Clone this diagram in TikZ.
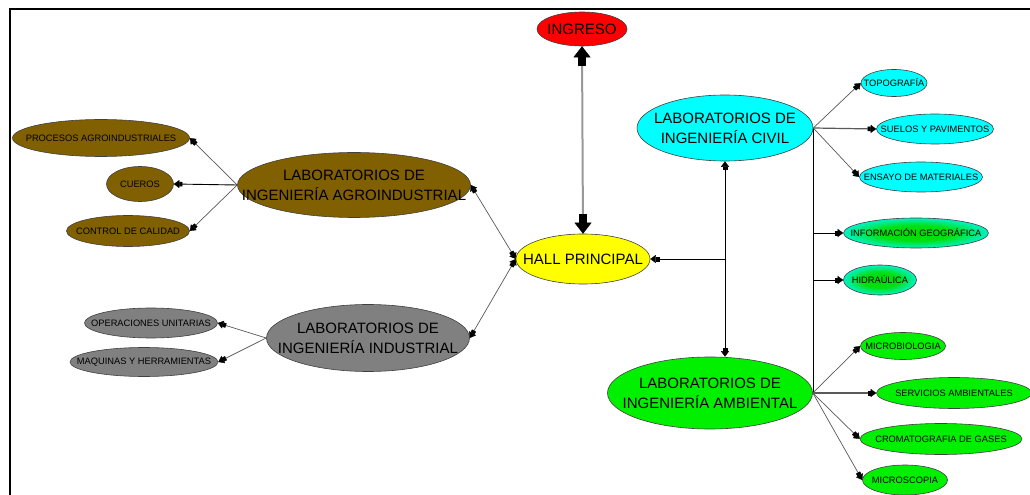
\documentclass[tikz,border=0pt]{standalone}
\usepackage{fontspec}
\setmainfont{Liberation Sans}
\usetikzlibrary{shapes.geometric,arrows.meta,calc}
\definecolor{agrobrown}{RGB}{128,96,0}
\definecolor{indgray}{RGB}{128,128,128}
\definecolor{civcyan}{RGB}{0,255,255}
\definecolor{ambgreen}{RGB}{0,240,0}
\definecolor{hallyellow}{RGB}{255,255,0}
\definecolor{ingred}{RGB}{255,0,0}
\pgfdeclareradialshading{gshade}{\pgfpoint{0bp}{0bp}}{rgb(0bp)=(0,0.86,0); rgb(13bp)=(0,0.88,0.08); rgb(25bp)=(0,0.95,0.78); rgb(50bp)=(0,0.95,0.78)}
\tikzset{
  ell/.style={ellipse, draw=black!75, line width=0.6bp, inner sep=0pt},
  bigt/.style={font=\fontsize{15bp}{20bp}\selectfont, align=center, inner sep=0pt},
  smt/.style={font=\fontsize{9.3bp}{11bp}\selectfont, inner sep=0pt},
  thinln/.style={draw=black!65, line width=0.7bp},
  blkln/.style={draw=black, line width=0.9bp},
  arr/.style={arrows={-{Rectangle[length=3bp,width=4.5bp,line width=0.3bp,color=black]Triangle[length=5.5bp,width=8bp,line width=0.3bp,color=black]}}},
  darr/.style={arrows={{Triangle[length=5.5bp,width=8bp,line width=0.3bp,color=black]Rectangle[length=3bp,width=4.5bp,line width=0.3bp,color=black]}-{Rectangle[length=3bp,width=4.5bp,line width=0.3bp,color=black]Triangle[length=5.5bp,width=8bp,line width=0.3bp,color=black]}}},
  blockarr/.style={draw=black, line width=8bp, arrows={-{Triangle[length=11bp,width=17bp,line width=0.3bp]}}},
  grad/.style={ell, shading=gshade}
}
\begin{document}
\begin{tikzpicture}[x=1bp,y=-1bp]
\useasboundingbox (0,0) rectangle (1030,495);
\fill[white] (0,0) rectangle (1030,495);
\draw[line width=2bp] (10,495) -- (10,9.5) -- (1030,9.5);

% main nodes
\node[ell, fill=ingred, minimum width=90bp, minimum height=34bp] (ing) at (582,29) {};
\node[bigt] (ingt) at (ing) {INGRESO};
\node[ell, fill=hallyellow, minimum width=134bp, minimum height=50bp] (hall) at (583,259) {};
\node[bigt] (hallt) at (hall) {HALL PRINCIPAL};
\node[ell, fill=civcyan, minimum width=176bp, minimum height=66bp] (civil) at (725,128) {};
\node[bigt] (civilt) at (civil) {LABORATORIOS DE\\INGENIERÍA CIVIL};
\node[ell, fill=ambgreen, minimum width=205bp, minimum height=72bp] (amb) at (710,393) {};
\node[bigt] (ambt) at (amb) {LABORATORIOS DE\\INGENIERÍA AMBIENTAL};
\node[ell, fill=agrobrown, minimum width=233bp, minimum height=65bp] (agro) at (354,185) {};
\node[bigt] (agrot) at (agro) {LABORATORIOS DE\\INGENIERÍA AGROINDUSTRIAL};
\node[ell, fill=indgray, minimum width=203bp, minimum height=67bp] (ind) at (368,338) {};
\node[bigt] (indt) at (ind) {LABORATORIOS DE\\INGENIERÍA INDUSTRIAL};

% civil children
\node[ell, fill=civcyan, minimum width=66bp, minimum height=27bp] (topo) at (894,83) {};
\node[smt] (topot) at (topo) {TOPOGRAFÍA};
\node[ell, fill=civcyan, minimum width=117bp, minimum height=30bp] (suel) at (935,129) {};
\node[smt] (suelt) at (suel) {SUELOS Y PAVIMENTOS};
\node[ell, fill=civcyan, minimum width=123bp, minimum height=30bp] (ens) at (921,177) {};
\node[smt] (enst) at (ens) {ENSAYO DE MATERIALES};
\node[grad, minimum width=145bp, minimum height=30bp] (geo) at (916,233) {};
\node[smt] (geot) at (geo) {INFORMACIÓN GEOGRÁFICA};
\node[grad, minimum width=73bp, minimum height=30bp] (hid) at (880,280) {};
\node[smt] (hidt) at (hid) {HIDRAÚLICA};

% ambiental children
\node[ell, fill=ambgreen, minimum width=85bp, minimum height=27bp] (micro) at (903,346) {};
\node[smt] (microt) at (micro) {MICROBIOLOGIA};
\node[ell, fill=ambgreen, minimum width=155bp, minimum height=31bp] (serv) at (954,393) {};
\node[smt] (servt) at (serv) {SERVICIOS AMBIENTALES};
\node[ell, fill=ambgreen, minimum width=162bp, minimum height=31bp] (croma) at (941,439) {};
\node[smt] (cromat) at (croma) {CROMATOGRAFIA DE GASES};
\node[ell, fill=ambgreen, minimum width=85bp, minimum height=30bp] (mics) at (905,480) {};
\node[smt] (micst) at (mics) {MICROSCOPIA};

% agro children
\node[ell, fill=agrobrown, minimum width=177bp, minimum height=37bp] (proc) at (101,138) {};
\node[smt] (proct) at (proc) {PROCESOS AGROINDUSTRIALES};
\node[ell, fill=agrobrown, minimum width=67bp, minimum height=35bp] (cuer) at (140,184) {};
\node[smt] (cuert) at (cuer) {CUEROS};
\node[ell, fill=agrobrown, minimum width=123bp, minimum height=31bp] (ctrl) at (128,231) {};
\node[smt] (ctrlt) at (ctrl) {CONTROL DE CALIDAD};

% industrial children
\node[ell, fill=indgray, minimum width=133bp, minimum height=30bp] (ops) at (151,323) {};
\node[smt] (opst) at (ops) {OPERACIONES UNITARIAS};
\node[ell, fill=indgray, minimum width=148bp, minimum height=29bp] (maq) at (144,362) {};
\node[smt] (maqt) at (maq) {MAQUINAS Y HERRAMIENTAS};

% ingreso - hall
\draw[draw=black!40, line width=2bp] (ing.south) -- (hall.north);
\draw[blockarr] ($(ing.south)+(0,20)$) -- (ing.south);
\draw[blockarr] ($(hall.north)+(0,-20)$) -- (hall.north);

% hall - left
\draw[thinln, darr] (hall.west) -- (agro.east);
\draw[thinln, darr] (hall.west) -- (ind.east);

% hall - right
\coordinate (rj) at (civil.south |- hall.east);
\coordinate (ambtop) at (civil.south |- amb.north);
\draw[blkln, arr] (rj) -- (hall.east);
\draw[blkln, darr] (civil.south) -- (ambtop);

% right trunk
\coordinate (trunkend) at (civil.east |- amb.east);
\draw[blkln] (civil.east) -- (trunkend);
\draw[blkln, arr] (civil.east |- geo.west) -- (geo.west);
\draw[blkln, arr] (civil.east |- hid.west) -- (hid.west);

% civil children
\draw[thinln, arr] (civil.east) -- (topo.west);
\draw[thinln, line width=1.2bp, arr] (civil.east) -- (suel.west);
\draw[thinln, arr] (civil.east) -- (ens.west);

% ambiental children
\draw[thinln, arr] (amb.east) -- (micro.west);
\draw[thinln, line width=1.2bp, arr] (amb.east) -- (serv.west);
\draw[thinln, arr] (amb.east) -- (croma.west);
\draw[thinln, arr] (amb.east) -- (mics.west);

% agro children
\draw[thinln, arr] (agro.west) -- (proc.east);
\draw[blkln, arr] (agro.west) -- (cuer.east);
\draw[thinln, arr] (agro.west) -- (ctrl.east);

% industrial children
\draw[thinln, arr] (ind.west) -- (ops.east);
\draw[thinln, arr] (ind.west) -- (maq.east);
\end{tikzpicture}
\end{document}
